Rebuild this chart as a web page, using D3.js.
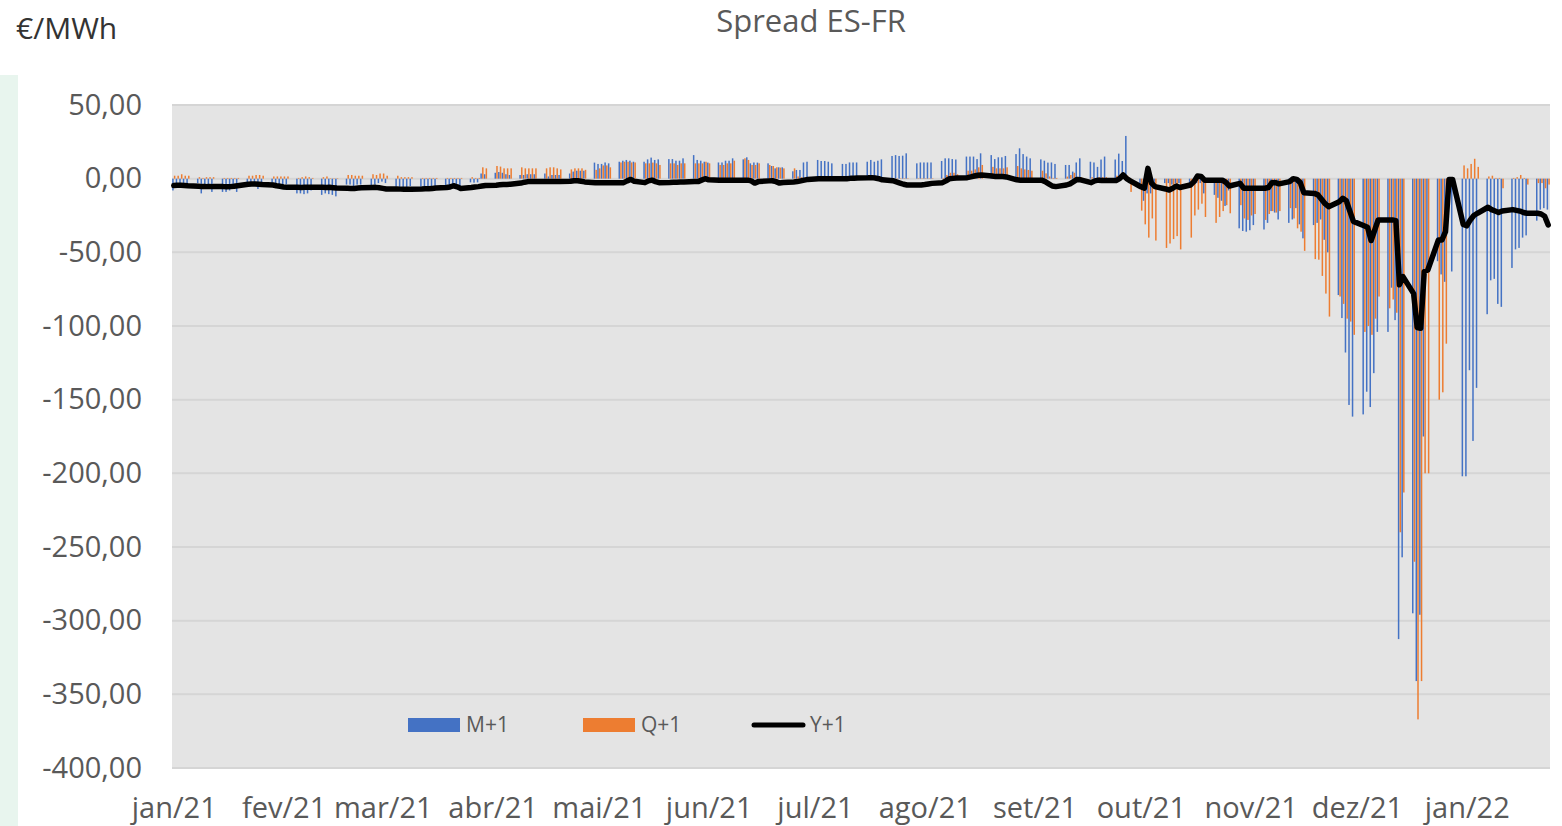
<!DOCTYPE html>
<html>
<head>
<meta charset="utf-8">
<script src="https://cdn.jsdelivr.net/npm/d3@7"></script>
<style>
  html, body { margin: 0; padding: 0; background: #fff; }
  svg { display: block; font-family: "Open Sans", sans-serif; }
</style>
</head>
<body>
<div id="chart"></div>
<script>
// trading days (Mon-Fri) from 4 Jan 2021 to 27 Jan 2022
const days = d3.utcDay.range(new Date(Date.UTC(2021, 0, 4)), new Date(Date.UTC(2022, 0, 28)))
  .filter(d => d.getUTCDay() % 6 !== 0)

// M+1 spread, one value per trading day (one line per week)
const m1 = [
  -8, -3, -3, -3, -3.5,
  -3, -10, -4, -4, -9,
  -9, -9, -8, -5, -9,
  -3, -3, -4, -7, -3,
  -4, -4, -5, -4, -4,
  -10, -10, -10.5, -10, -8,
  -11, -10, -10.5, -11, -12,
  -4, -4, -5, -4, -4,
  -5, -4, -3, -2, -3,
  -5.5, -5.5, -6, -6, -5,
  -5.5, -5.5, -5.5, -5.5, -5,
  -5.5, -4.5, -5.5, -4.5, -8,
  -2.5, -2.7, -2.5, 3.5, 3,
  4, 4.5, 4, 3, 2.5,
  2.5, 2.5, 3, 3, 3,
  3.5, 1.5, 2.5, 2.5, 2.5,
  3.5, 4.8, 5.4, 5.4, 5.4,
  10.9, 10, 10, 11, 10.4,
  11.5, 12.2, 12.7, 12.2, 11.5,
  11.5, 13.1, 14.3, 12.7, 13.1,
  13.3, 13.3, 12.2, 12.2, 13.8,
  16, 12.7, 12.2, 11.5, 10.9,
  11, 11, 12.2, 12.2, 13.8,
  13.1, 14.5, 10.4, 11, 10.9,
  10.4, 8.6, 7, 7.7, 7.7,
  5, 5.9, 5.9, 11, 11.5,
  12.7, 12, 12, 11.5, 10.4,
  10, 10, 11, 11, 11,
  11.5, 12.7, 11.5, 12.2, 13.1,
  15.4, 16, 15.4, 15.6, 17.2,
  10.4, 11, 11, 11, 11,
  12, 13.8, 13.8, 13.3, 13,
  15, 15, 15, 13.3, 17.2,
  16, 13.3, 14.5, 14.5, 15.4,
  16.7, 20.6, 16.7, 15, 13.8,
  13.1, 12.2, 10.9, 11, 10,
  9.3, 9.3, 4.8, 11, 13.8,
  11.5, 11, 8, 13, 15,
  13, 17, 12, 29, -3,
  -3, -15, -10, -10, -5,
  -3, -3, -4, -3, -3,
  -3, -3, -3, -3, -10,
  -11, -13, -15, -18.5, -8,
  -33.7, -35.5, -36, -35, -31.5,
  -34.5, -30, -22, -23, -27.7,
  -30, -27.7, -20, -31, -40.5,
  -31.5, -30, -27.7, -41.5, -50,
  -79, -94.6, -118, -153.6, -161.5,
  -160, -144.6, -155, -132, -104,
  -104, -74, -96, -312.5, -257,
  -295, -341, -296, -175, -60,
  -56, -65, -70, -20, -63,
  -202, -202, -130, -178, -142,
  -92, -69, -68, -85, -87,
  -60.6, -48, -47, -40, -38.5,
  -28.5, -21, -20, -21
]

// Q+1 spread
const q1 = [
  2, 2, 3, 2, 2,
  1, 0.5, 1, 1, 1,
  0.5, 0.5, 0.5, 0.5, 0.5,
  2, 2, 2.5, 2.5, 2,
  1.5, 1.5, 1.5, 1.5, 1.5,
  0.5, 1, 1.5, 1, 0.5,
  1, 1.5, 0.3, 0.3, 0.3,
  2.5, 2.5, 2, 2, 2,
  3, 2.5, 3.5, 3.5, 2,
  2, 1, 1, 1, 1,
  0.5, 0.5, 0.5, 0.5, 0.5,
  0.5, 0.5, 0.5, 0.5, 0.5,
  1, 0.5, 0.5, 7.7, 7,
  8.6, 8.2, 7, 7, 7,
  7.7, 7, 7, 7, 7,
  7, 7.7, 7.7, 7, 6.3,
  6.3, 7, 7, 7, 6,
  6, 7, 9, 9, 7.7,
  11, 11.5, 11.5, 11, 11,
  10.4, 10.4, 10.9, 10.4, 9.3,
  10.4, 10.4, 9.3, 10.4, 10.4,
  10.4, 10.4, 10.4, 11.5, 10.4,
  9.3, 9.3, 10.4, 10.4, 12.2,
  13.8, 12.7, 9.3, 9.3, 10.4,
  9.3, 8.6, 7.7, 7.5, 7,
  7, 1.5, 1, 0.5, 0.5,
  0.3, 0.3, 0.3, 0.3, 0.3,
  0.3, 0.3, 0.3, 0.3, 0.3,
  0.3, 0.3, 0.3, 0.3, 0.3,
  0.3, 0.3, 0.3, 0.3, 0.3,
  0.3, 0.3, 0.3, 0.3, 0.3,
  0.5, 2.5, 4, 4, 3,
  5.4, 5.4, 6.3, 7.7, 9.3,
  8, 7, 7, 7, 7.7,
  8.6, 7, 6.3, 5.9, 5.4,
  5.4, 3.6, 1.5, 0.5, 0.5,
  1.4, 2.5, 4, 1, 1,
  1, 0.5, 1, 1, 1,
  2, 3, 2, 2, -9,
  -21.7, -31, -40, -27, -42,
  -47, -44, -41, -39, -48,
  -40, -25, -21, -17, -26,
  -30, -26, -22, -18, -23.5,
  -18, -27, -28, -25, -24,
  -28, -24, -22, -23, -22,
  -20, -27, -33.7, -36, -49,
  -54.6, -55, -66, -78, -93.6,
  -80, -85, -95, -97, -106,
  -104, -100, -106, -95, -80,
  -88, -82, -91, -240, -213,
  -260, -367, -341, -200, -200,
  -150, -145, -112, -10, -3,
  9, 7, 10, 13.5, 8,
  1.5, 2, 0.5, 0.5, -6.5,
  0.5, 1, 2.5, 0.5, -4,
  -3, -3, -6.5, -4
]

// Y+1 spread
const y1 = [
  -4.7, -4.5, -4.5, -4.6, -4.8,
  -5.2, -5.4, -5.4, -5.3, -5.4,
  -5.4, -5.5, -5.4, -5.2, -4.8,
  -3.8, -3.6, -3.6, -3.8, -4,
  -4.3, -4.8, -5.2, -5.6, -5.9,
  -5.9, -6, -5.9, -5.9, -5.9,
  -5.9, -6, -5.9, -6.1, -6.3,
  -6.5, -6.6, -6.6, -6.4, -6.2,
  -6, -5.9, -6.2, -6.6, -7,
  -7, -7.1, -7.2, -7.2, -7.1,
  -7, -6.9, -6.8, -6.6, -6.4,
  -6, -5.6, -4.8, -5.5, -6.6,
  -6, -5.6, -5.4, -5, -4.6,
  -4.4, -4.2, -4, -3.9, -3.8,
  -3, -2.4, -2, -2, -2,
  -2, -2, -2, -2, -2,
  -1.8, -1.4, -1.4, -1.8, -2.2,
  -2.7, -2.7, -2.7, -2.7, -2.7,
  -2.7, -2.7, -1.5, -0.5, -1.8,
  -2.7, -1.5, -1, -2, -2.7,
  -2.6, -2.5, -2.4, -2.3, -2.2,
  -2, -2, -1, 0, -0.8,
  -1, -1, -1, -1, -1,
  -1, -1, -1.5, -3, -2,
  -1.5, -1.4, -2, -3, -2.6,
  -2.2, -2, -1.5, -1, -0.5,
  0, 0, 0, 0, 0,
  0, 0, 0.2, 0.3, 0.5,
  0.6, 0.7, 0.4, 0, -0.8,
  -1.4, -2.2, -3, -3.8, -4.3,
  -4.3, -4.3, -4, -3.6, -3.2,
  -2.7, -1.5, 0, 0.2, 0.4,
  0.7, 1.2, 1.8, 2.3, 2.5,
  1.8, 1.4, 1.4, 1.4, 1.2,
  -0.8, -1, -1, -1, -1,
  -1, -2, -3.5, -5, -5.4,
  -4.3, -3.5, -2, -0.5, -0.8,
  -2.7, -1.5, -1, -1.2, -1.3,
  -1.3, 0, 2.5, 0, -1.5,
  -5.5, -6.5, 7, -3, -5.4,
  -7, -7.7, -6.5, -5, -6,
  -4.3, -2, 1.8, 1.5, -1,
  -1, -1, -1, -2.5, -5,
  -3.2, -6.5, -6.5, -6.5, -6.5,
  -6.5, -6, -2.7, -2.7, -3.5,
  -2, 0, -0.5, -2.7, -9.5,
  -10, -11, -14, -17, -19,
  -15.6, -13.3, -15, -22, -29,
  -32, -33, -42, -35, -28,
  -28, -28, -28.5, -72, -66.5,
  -78, -101, -101.5, -63, -62,
  -41.6, -41.6, -36, -0.5, -0.5,
  -31, -32, -28, -25, -23.5,
  -19.4, -21, -22, -23, -22,
  -21, -21.5, -22, -23, -23.5,
  -23.5, -24, -25.5, -31.4
]

const xTickLabels = ['jan/21', 'fev/21', 'mar/21', 'abr/21', 'mai/21', 'jun/21', 'jul/21',
  'ago/21', 'set/21', 'out/21', 'nov/21', 'dez/21', 'jan/22']
const yTicks = [50, 0, -50, -100, -150, -200, -250, -300, -350, -400]
const seriesNames = ['M+1', 'Q+1', 'Y+1']
const colors = ['#4472C4', '#ED7D31', '#000000']

const W = 1562, H = 826
const plot = { left: 172, right: 1550, top: 105, bottom: 768 }

const n = Math.min(days.length, m1.length, q1.length, y1.length)
const rows = d3.range(n).map(i => ({ date: days[i], m: m1[i], q: q1[i], y: y1[i] }))

const pt = d3.formatLocale({ decimal: ',', thousands: '.', grouping: [3], currency: ['', ' €'], minus: '-' })
const fmt = pt.format('.2f')

const svg = d3.select('#chart').append('svg')
  .attr('width', W).attr('height', H)

// green side strip
svg.append('rect').attr('x', 0).attr('y', 75).attr('width', 18).attr('height', H - 75)
  .attr('fill', '#e8f5ee')

const x = d3.scaleUtc()
  .domain([d3.utcHour.offset(days[0], -12), d3.utcHour.offset(days[n - 1], 12)])
  .range([plot.left, plot.right])
const y = d3.scaleLinear().domain([-400, 50]).range([plot.bottom, plot.top])

// plot background
svg.append('rect')
  .attr('x', plot.left).attr('y', plot.top)
  .attr('width', plot.right - plot.left).attr('height', plot.bottom - plot.top)
  .attr('fill', '#e4e4e4')

// grid
svg.append('g').selectAll('line').data(yTicks).join('line')
  .attr('x1', plot.left).attr('x2', plot.right)
  .attr('y1', d => y(d)).attr('y2', d => y(d))
  .attr('stroke', '#d5d5d5').attr('stroke-width', 2)

// y axis labels
const yAxis = svg.append('g')
  .attr('transform', `translate(${plot.left - 30},0)`)
  .call(d3.axisLeft(y).tickValues(yTicks).tickFormat(fmt).tickSize(0).tickPadding(0))
yAxis.select('.domain').remove()
yAxis.selectAll('text')
  .attr('font-family', '"Open Sans", sans-serif')
  .attr('font-size', 29).attr('fill', '#595959')

// x axis labels (ticks every month from first trading day)
const xTicks = xTickLabels.map((_, i) => d3.utcMonth.offset(days[0], i))
const xAxis = svg.append('g')
  .attr('transform', `translate(0,${plot.bottom})`)
  .call(d3.axisBottom(x).tickValues(xTicks).tickFormat((d, i) => xTickLabels[i]).tickSize(0).tickPadding(29))
xAxis.select('.domain').remove()
xAxis.selectAll('text')
  .attr('font-family', '"Open Sans", sans-serif')
  .attr('font-size', 29).attr('fill', '#595959')

// bars
const bw = 1.5
const bars = svg.append('g')
bars.selectAll('rect.m').data(rows).join('rect')
  .attr('class', 'm')
  .attr('x', d => x(d.date) - bw - 0.1)
  .attr('y', d => Math.min(y(d.m), y(0)))
  .attr('width', bw)
  .attr('height', d => Math.abs(y(d.m) - y(0)))
  .attr('fill', colors[0])
bars.selectAll('rect.q').data(rows).join('rect')
  .attr('class', 'q')
  .attr('x', d => x(d.date) + 0.1)
  .attr('y', d => Math.min(y(d.q), y(0)))
  .attr('width', bw)
  .attr('height', d => Math.abs(y(d.q) - y(0)))
  .attr('fill', colors[1])

// Y+1 line
const line = d3.line().x(d => x(d.date)).y(d => y(d.y))
svg.append('path').datum(rows)
  .attr('d', line)
  .attr('fill', 'none')
  .attr('stroke', colors[2])
  .attr('stroke-width', 5.5)
  .attr('stroke-linejoin', 'round')
  .attr('stroke-linecap', 'round')

// title and unit
svg.append('text').attr('x', 811).attr('y', 32).attr('text-anchor', 'middle')
  .attr('font-size', 31).attr('fill', '#595959').text('Spread ES-FR')
svg.append('text').attr('x', 16).attr('y', 39)
  .attr('font-size', 30).attr('fill', '#333').text('€/MWh')

// legend
const legend = svg.append('g').attr('font-size', 21).attr('fill', '#595959')
const legX = [408, 583, 752]
seriesNames.forEach((name, i) => {
  if (i < 2) {
    legend.append('rect').attr('x', legX[i]).attr('y', 718).attr('width', 52).attr('height', 14)
      .attr('fill', colors[i])
  } else {
    legend.append('line').attr('x1', legX[i] + 2).attr('x2', legX[i] + 51)
      .attr('y1', 725).attr('y2', 725)
      .attr('stroke', colors[i]).attr('stroke-width', 5).attr('stroke-linecap', 'round')
  }
  legend.append('text').attr('x', legX[i] + 58).attr('y', 732).text(name)
})
</script>
</body>
</html>
